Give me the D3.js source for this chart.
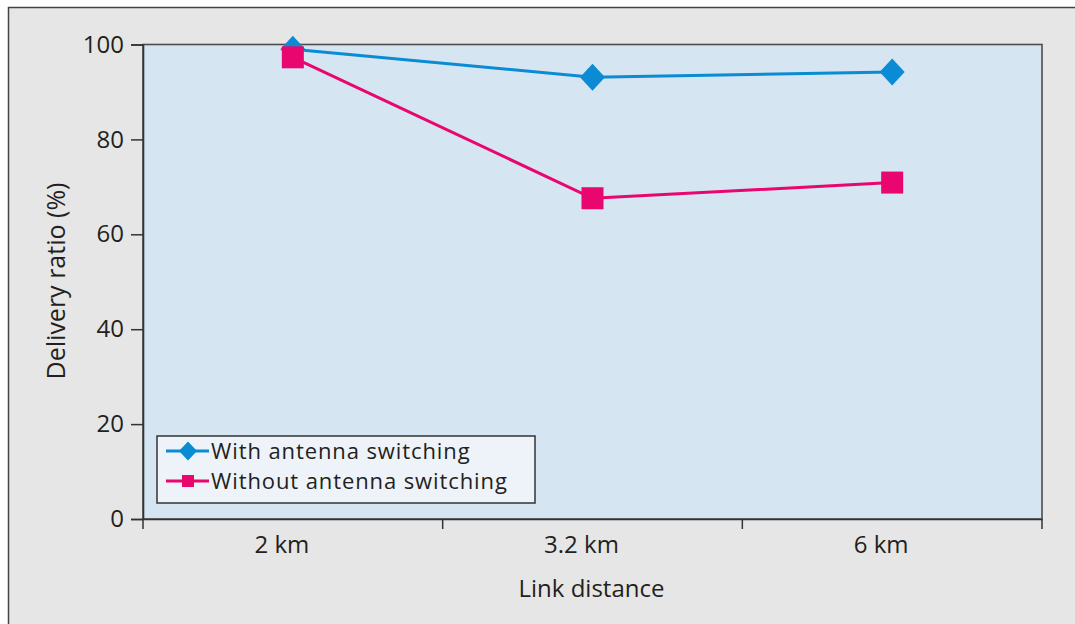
<!DOCTYPE html>
<html><head><meta charset="utf-8">
<script src="https://cdn.jsdelivr.net/npm/d3@7"></script>
<style>
html,body{margin:0;padding:0;background:#fff;}
svg{display:block;}
text{font-family:"Open Sans",sans-serif;fill:#231f20;}
</style></head>
<body>
<svg id="chart" width="1075" height="624"></svg>
<script>
const categories = ["2 km", "3.2 km", "6 km"];
const withSwitching = [99, 93.1, 94.2];
const withoutSwitching = [97.3, 67.6, 70.9];
const yTicks = [0, 20, 40, 60, 80, 100];
const seriesNames = ["With antenna switching", "Without antenna switching"];
const seriesColors = ["#0b8bd3", "#e9066f"];

const svg = d3.select("#chart");
const W = 1075, H = 624;
const m = {left: 143, top: 44.5, right: 1042, bottom: 519};

// frame
svg.append("rect").attr("x", 8.5).attr("y", 7.5).attr("width", W).attr("height", H)
  .attr("fill", "#e6e6e6").attr("stroke", "#444").attr("stroke-width", 1.5);

const x = d3.scaleBand().domain(categories).range([m.left, m.right]);
const y = d3.scaleLinear().domain([0, 100]).range([m.bottom, m.top]);

svg.append("rect").attr("x", m.left).attr("y", m.top)
  .attr("width", m.right - m.left).attr("height", m.bottom - m.top)
  .attr("fill", "#d5e5f2").attr("stroke", "#4d4d4d").attr("stroke-width", 1.6);

// Y axis
const ya = svg.append("g").attr("transform", `translate(${m.left},0)`)
  .call(d3.axisLeft(y).tickValues(yTicks).tickSize(12).tickPadding(7).tickFormat(d3.format("d")));
ya.select(".domain").attr("stroke", "#333").attr("stroke-width", 1.6);
ya.selectAll(".tick line").attr("stroke", "#333").attr("stroke-width", 1.5);
ya.selectAll(".tick text").style("font-size", "24px").attr("fill", "#231f20");

// X axis with tick marks at band boundaries
const xa = svg.append("g").attr("transform", `translate(0,${m.bottom})`)
  .call(d3.axisBottom(x).tickSize(0).tickPadding(17));
xa.select(".domain").attr("stroke", "#333").attr("stroke-width", 1.6);
xa.selectAll(".tick text").style("font-size", "24px").attr("fill", "#231f20").attr("dx", -11);
const bounds = categories.map(c => x(c)).concat([x(categories[categories.length - 1]) + x.bandwidth()]);
xa.selectAll(".bnd").data(bounds).enter().append("line")
  .attr("x1", d => d).attr("x2", d => d).attr("y1", 0).attr("y2", 10)
  .attr("stroke", "#333").attr("stroke-width", 1.5);

// titles
svg.append("text").attr("x", (m.left + m.right) / 2 - 1).attr("y", 597)
  .attr("text-anchor", "middle").style("font-size", "24px").text("Link distance");
svg.append("text").attr("transform", `translate(65,281) rotate(-90)`)
  .attr("text-anchor", "middle").style("font-size", "25px").text("Delivery ratio (%)");

const cx = d => x(d) + x.bandwidth() / 2;
const line = d3.line().x(d => cx(d.c)).y(d => y(d.v));
const allSeries = [withSwitching, withoutSwitching];

function diamond(g, w, h, color) {
  g.append("path").attr("d", `M0,${-h}L${w},0L0,${h}L${-w},0Z`).attr("fill", color);
}
function square(g, s, color) {
  g.append("rect").attr("x", -s).attr("y", -s).attr("width", 2 * s).attr("height", 2 * s).attr("fill", color);
}

allSeries.forEach((vals, i) => {
  const pts = categories.map((c, j) => ({c, v: vals[j]}));
  svg.append("path").datum(pts).attr("d", line).attr("fill", "none")
    .attr("stroke", seriesColors[i]).attr("stroke-width", 3);
  pts.forEach(d => {
    const g = svg.append("g").attr("transform", `translate(${cx(d.c)},${y(d.v)})`);
    if (i === 0) diamond(g, 12.5, 13.5, seriesColors[i]); else square(g, 11, seriesColors[i]);
  });
});

// legend
const lg = svg.append("g");
lg.append("rect").attr("x", 157).attr("y", 436).attr("width", 378).attr("height", 67)
  .attr("fill", "#edf3f9").attr("stroke", "#333").attr("stroke-width", 1.5);
seriesNames.forEach((n, i) => {
  const yy = 451 + i * 30;
  lg.append("line").attr("x1", 166).attr("x2", 209).attr("y1", yy).attr("y2", yy)
    .attr("stroke", seriesColors[i]).attr("stroke-width", 3);
  const g = lg.append("g").attr("transform", `translate(188,${yy})`);
  if (i === 0) diamond(g, 9, 9.5, seriesColors[i]); else square(g, 6, seriesColors[i]);
  lg.append("text").attr("x", 211).attr("y", yy + 8).style("font-size", "22px")
    .style("letter-spacing", "0.9px").text(n);
});
</script>
</body></html>
